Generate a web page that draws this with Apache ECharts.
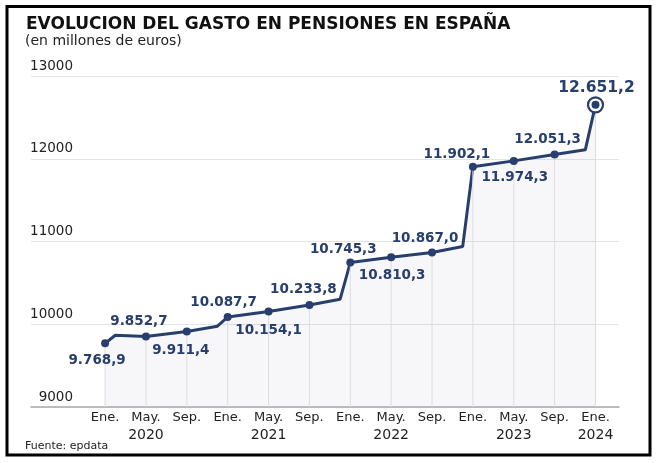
<!DOCTYPE html>
<html>
<head>
<meta charset="utf-8">
<script src="https://cdn.jsdelivr.net/npm/echarts@6.0.0/dist/echarts.min.js"></script>
<style>
  html, body { margin: 0; padding: 0; background: #fff; }
  #chart { width: 658px; height: 463px; }
</style>
</head>
<body>
<div id="chart"></div>
<script>
// meses contados desde Ene. 2020 (0) hasta Ene. 2024 (48)
var mesIdx = [0, 1, 4, 8, 11, 12, 16, 20, 23, 24, 28, 32, 35, 36, 40, 44, 47, 48];
var gasto  = [9768.9, 9867, 9852.7, 9911.4, 9976, 10087.7, 10154.1, 10233.8, 10301,
              10745.3, 10810.3, 10867.0, 10940, 11902.1, 11974.3, 12051.3, 12108, 12651.2];

// marcas del eje x (Ene., May., Sep.)
var ticksX = [0, 4, 8, 12, 16, 20, 24, 28, 32, 36, 40, 44, 48];
var nombresMes = { 0: 'Ene.', 4: 'May.', 8: 'Sep.' };
var anios = ['2020', '2021', '2022', '2023', '2024'];

var ticksY = [9000, 10000, 11000, 12000, 13000];

// desplazamiento de cada etiqueta respecto a su punto
var desplaz = [[-8, 17], [-7, -15], [-6, 19], [-4, -14], [0, 19], [-6, -15], [-7, -13],
               [1, 18], [-7, -14], [-16, -12], [1, 17], [-7, -15], [1, -17]];

var azul = '#283e6c';

function formatoES(v) {
    var partes = v.toFixed(1).split('.');
    var ent = partes[0].replace(/\B(?=(\d{3})+(?!\d))/g, '.');
    return ent + ',' + partes[1];
}

var linea = [];
var puntos = [];
var barras = [];
for (var i = 0; i < mesIdx.length; i++) {
    linea.push([mesIdx[i], gasto[i]]);
    if (mesIdx[i] % 4 === 0) {
        var k = puntos.length;
        var ultimo = (mesIdx[i] === 48);
        puntos.push({
            value: [mesIdx[i], gasto[i]],
            label: {
                offset: desplaz[k],
                fontSize: ultimo ? 15.5 : 13.5
            }
        });
        barras.push([mesIdx[i], gasto[i]]);
    }
}
var ultimoPunto = puntos[puntos.length - 1].value;

var chart = echarts.init(document.getElementById('chart'));
chart.setOption({
    animation: false,
    textStyle: { fontFamily: 'DejaVu Sans' },
    graphic: [
        {
            type: 'rect',
            shape: { x: 7, y: 6.5, width: 643, height: 448.5 },
            style: { fill: 'none', stroke: '#000', lineWidth: 3 },
            silent: true
        },
        {
            type: 'text', x: 26, y: 24.5,
            style: {
                text: 'EVOLUCION DEL GASTO EN PENSIONES EN ESPAÑA',
                font: 'bold 17px "DejaVu Sans"', fill: '#111', verticalAlign: 'middle'
            }
        },
        {
            type: 'text', x: 25, y: 41,
            style: {
                text: '(en millones de euros)',
                font: '14px "DejaVu Sans"', fill: '#222', verticalAlign: 'middle'
            }
        },
        {
            type: 'text', x: 25, y: 446,
            style: {
                text: 'Fuente: epdata',
                font: '11px "DejaVu Sans"', fill: '#222', verticalAlign: 'middle'
            }
        }
    ],
    grid: { left: 31, right: 39, top: 76, bottom: 56 },
    xAxis: {
        type: 'value',
        min: -7.25,
        max: 50.3,
        axisLine: { show: true, lineStyle: { color: '#aaa', width: 1.5 } },
        axisTick: { show: false },
        splitLine: { show: false },
        axisLabel: {
            customValues: ticksX,
            color: '#222',
            margin: 2,
            formatter: function (v) {
                var m = v % 12;
                var txt = '{m|' + nombresMes[m] + '}';
                if (m === 4 || v === 48) txt += '\n{y|' + anios[Math.floor(v / 12)] + '}';
                return txt;
            },
            rich: {
                m: { fontSize: 13, lineHeight: 17, color: '#222' },
                y: { fontSize: 14, lineHeight: 19, color: '#222' }
            }
        }
    },
    yAxis: {
        type: 'value',
        min: ticksY[0],
        max: ticksY[ticksY.length - 1],
        interval: 1000,
        axisLine: { show: false },
        axisTick: { show: false },
        splitLine: { lineStyle: { color: '#e4e4e4', width: 1 } },
        axisLabel: {
            inside: true,
            align: 'right',
            verticalAlign: 'bottom',
            margin: 42,
            padding: [0, 0, 3, 0],
            color: '#222',
            fontSize: 13.5,
            formatter: function (v) { return String(v); }
        }
    },
    series: [
        {
            type: 'line',
            data: linea,
            showSymbol: false,
            z: 2,
            lineStyle: { color: azul, width: 3 },
            areaStyle: { color: 'rgba(70,70,140,0.06)', origin: 'start' }
        },
        {
            type: 'bar',
            data: barras,
            barWidth: 1,
            z: 3,
            itemStyle: { color: '#dcdce2' },
            silent: true
        },
        {
            type: 'scatter',
            data: [ultimoPunto],
            symbol: 'circle',
            symbolSize: 15,
            z: 4,
            itemStyle: { color: '#fff', borderColor: azul, borderWidth: 2.2, opacity: 1 }
        },
        {
            type: 'scatter',
            data: puntos,
            symbol: 'circle',
            symbolSize: 8,
            z: 5,
            itemStyle: { color: azul, opacity: 1 },
            label: {
                show: true,
                position: 'inside',
                align: 'center',
                verticalAlign: 'middle',
                color: azul,
                fontWeight: 'bold',
                fontSize: 13.5,
                textBorderWidth: 0,
                formatter: function (p) { return formatoES(p.value[1]); }
            }
        }
    ]
});
</script>
</body>
</html>
